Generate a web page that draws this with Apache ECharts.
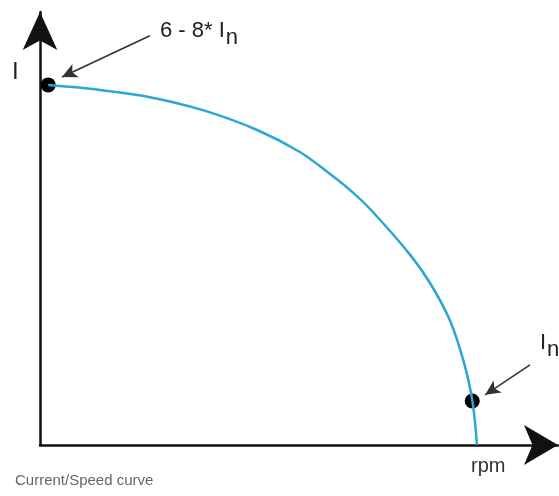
<!DOCTYPE html>
<html>
<head>
<meta charset="utf-8">
<script src="https://cdn.jsdelivr.net/npm/echarts@6/dist/echarts.min.js"></script>
<style>
  html, body { margin: 0; padding: 0; background: #fff; }
  #chart { width: 559px; height: 496px; }
</style>
</head>
<body>
<div id="chart"></div>
<script>
// curve: speed (x) vs current (y), arbitrary units
const speed = [1.9, 7.7, 13.9, 25.5, 37.8, 50.4, 60.3, 67.3, 71.9, 76.6, 85.9, 90.5, 95.1, 98.2, 100.3, 101.4];
const current = [99.8, 99.2, 98.4, 96.4, 92.8, 87.3, 81.2, 75.1, 70.7, 65.4, 52.7, 44.9, 34.6, 23.6, 12.5, 0];

// the two marked points: locked rotor and rated current
const markedPoints = [[1.9, 99.8], [100.3, 12.2]];

// annotation arrows [from, to]
const arrowStart = [[25.5, 113.4], [113.7, 22.2]];
const arrowEnd = [[5.1, 102], [103.3, 13.9]];

const xMax = 120.2;
const yMax = 120;

const chart = echarts.init(document.getElementById('chart'));

const curveData = speed.map((s, i) => [s, current[i]]);

const option = {
  animation: false,
  grid: { left: 40, right: 1, top: 12, bottom: 51 },
  xAxis: {
    type: 'value',
    min: 0,
    max: xMax,
    axisLine: {
      show: true,
      symbol: ['none', 'arrow'],
      symbolSize: [30, 34],
      lineStyle: { color: '#111', width: 2.5 }
    },
    axisTick: { show: false },
    axisLabel: { show: false },
    splitLine: { show: false }
  },
  yAxis: {
    type: 'value',
    min: 0,
    max: yMax,
    axisLine: {
      show: true,
      symbol: ['none', 'arrow'],
      symbolSize: [26, 38],
      lineStyle: { color: '#111', width: 2.5 }
    },
    axisTick: { show: false },
    axisLabel: { show: false },
    splitLine: { show: false }
  },
  series: [
    {
      type: 'line',
      data: curveData,
      smooth: 0.35,
      showSymbol: false,
      clip: false,
      lineStyle: { color: '#2aa7d4', width: 2.5 },
      markLine: {
        silent: true,
        symbol: ['none', 'arrow'],
        symbolSize: [11, 15],
        label: { show: false },
        lineStyle: { color: '#333', width: 1.6, type: 'solid' },
        data: arrowStart.map((p, i) => [{ coord: p }, { coord: arrowEnd[i] }])
      }
    },
    {
      type: 'scatter',
      data: markedPoints,
      symbolSize: 15,
      clip: false,
      itemStyle: { color: '#000', opacity: 1 }
    }
  ],
  graphic: [
    {
      type: 'text',
      left: 12,
      top: 60,
      style: { text: 'I', font: '24px "Liberation Sans"', fill: '#222' }
    },
    {
      type: 'text',
      left: 160,
      top: 20,
      style: {
        text: '{a|6 - 8* I}{b|n}',
        rich: {
          a: { font: '22px "Liberation Sans"', fill: '#222' },
          b: { font: '22px "Liberation Sans"', fill: '#222', padding: [14, 0, 0, 1] }
        }
      }
    },
    {
      type: 'text',
      left: 540,
      top: 332,
      style: {
        text: '{a|I}{b|n}',
        rich: {
          a: { font: '22px "Liberation Sans"', fill: '#222' },
          b: { font: '22px "Liberation Sans"', fill: '#222', padding: [14, 0, 0, 1] }
        }
      }
    },
    {
      type: 'text',
      left: 471,
      top: 456,
      style: { text: 'rpm', font: '20px "Liberation Sans"', fill: '#333' }
    },
    {
      type: 'text',
      left: 15,
      top: 473,
      style: { text: 'Current/Speed curve', font: '15px "Liberation Sans"', fill: '#666' }
    }
  ]
};

chart.setOption(option);
</script>
</body>
</html>
